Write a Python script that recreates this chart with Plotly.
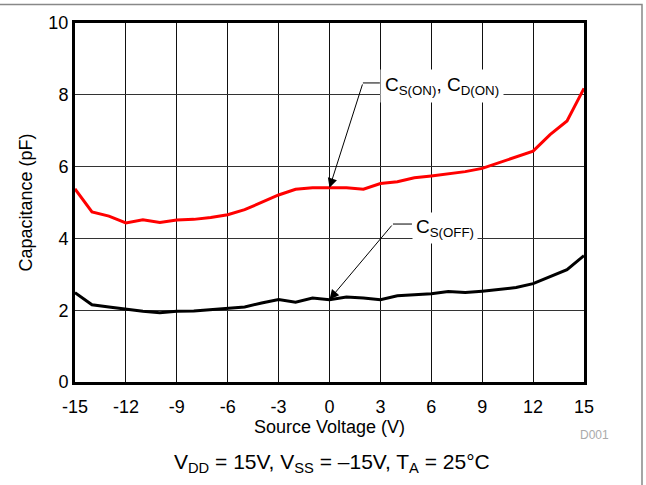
import plotly.graph_objects as go

# ---- data ----
source_voltage = list(range(-15, 16))
cs_on = [5.38, 4.74, 4.62, 4.43, 4.52, 4.44, 4.51, 4.53, 4.58, 4.66, 4.80, 5.01, 5.21, 5.37, 5.41,
         5.41, 5.41, 5.37, 5.53, 5.58, 5.69, 5.74, 5.80, 5.86, 5.95, 6.11, 6.25, 6.43, 6.89, 7.27, 8.18]
cs_off = [2.49, 2.15, 2.09, 2.02, 1.97, 1.93, 1.97, 1.98, 2.01, 2.04, 2.09, 2.20, 2.30, 2.22, 2.34,
          2.29, 2.37, 2.34, 2.29, 2.40, 2.42, 2.46, 2.52, 2.49, 2.53, 2.59, 2.63, 2.74, 2.94, 3.13, 3.52]
x_tick_vals = [-15, -12, -9, -6, -3, 0, 3, 6, 9, 12, 15]
x_tick_text = ["-15", "-12", "-9", "-6", "-3", "0", "3", "6", "9", "12", "15"]
y_tick_vals = [0, 2, 4, 6, 8, 10]
y_tick_text = ["0", "2", "4", "6", "8", "10"]

FONT = "Liberation Sans, Arial, sans-serif"

fig = go.Figure()
fig.add_trace(go.Scatter(x=source_voltage, y=cs_on, mode="lines",
                         line=dict(color="#ff0000", width=3), name="CS(ON), CD(ON)"))
fig.add_trace(go.Scatter(x=source_voltage, y=cs_off, mode="lines",
                         line=dict(color="#000000", width=3), name="CS(OFF)"))

# leader lines (horizontal parts)
fig.add_shape(type="line", x0=1.97, y0=8.33, x1=2.97, y1=8.33, xref="x", yref="y",
              line=dict(color="black", width=1))
fig.add_shape(type="line", x0=3.74, y0=4.40, x1=4.86, y1=4.40, xref="x", yref="y",
              line=dict(color="black", width=1))

# arrows
fig.add_annotation(x=0, y=5.41, ax=1.97, ay=8.33, axref="x", ayref="y", xref="x", yref="y",
                   text="", showarrow=True, arrowhead=2, arrowsize=1.9, arrowwidth=1,
                   arrowcolor="black", standoff=0)
fig.add_annotation(x=0, y=2.30, ax=3.74, ay=4.40, axref="x", ayref="y", xref="x", yref="y",
                   text="", showarrow=True, arrowhead=2, arrowsize=1.9, arrowwidth=1,
                   arrowcolor="black", standoff=0)

# labels
fig.add_annotation(x=3.0, y=8.24, xref="x", yref="y", xanchor="left", yanchor="middle",
                   text="C<sub>S(ON)</sub>, C<sub>D(ON)</sub>", showarrow=False,
                   font=dict(family=FONT, size=19, color="black"), bgcolor="white", borderpad=4)
fig.add_annotation(x=4.88, y=4.30, xref="x", yref="y", xanchor="left", yanchor="middle",
                   text="C<sub>S(OFF)</sub>", showarrow=False,
                   font=dict(family=FONT, size=19, color="black"), bgcolor="white", borderpad=3)

# caption and figure id
fig.add_annotation(x=0.504, y=-0.2256, xref="paper", yref="paper", xanchor="center", yanchor="middle",
                   text="V<sub>DD</sub> = 15V, V<sub>SS</sub> = \u201315V, T<sub>A</sub> = 25\u00b0C",
                   showarrow=False, font=dict(family=FONT, size=21, color="black"))
fig.add_annotation(x=1.0216, y=-0.148, xref="paper", yref="paper", xanchor="center", yanchor="middle",
                   text="D001", showarrow=False, font=dict(family=FONT, size=12, color="#aaaaaa"))

# outer gray frame
fig.add_shape(type="rect", xref="paper", yref="paper",
              x0=-0.16, x1=(642 - 75) / 509, y0=-0.35, y1=(382 - 4.5) / 359,
              line=dict(color="#888888", width=1.5), fillcolor="rgba(0,0,0,0)", layer="below")

fig.update_layout(
    width=646, height=485,
    margin=dict(l=75, r=62, t=23, b=103),
    paper_bgcolor="white", plot_bgcolor="white",
    showlegend=False,
    font=dict(family=FONT, color="black"),
    xaxis=dict(range=[-15, 15], tickvals=x_tick_vals, ticktext=x_tick_text,
               showgrid=True, gridcolor="#111111", gridwidth=1,
               showline=True, linecolor="black", linewidth=3, mirror=True,
               ticks="outside", ticklen=6, tickcolor="rgba(0,0,0,0)",
               zeroline=False, tickfont=dict(size=18, family=FONT),
               title=dict(text="Source Voltage (V)", font=dict(size=18, family=FONT), standoff=3)),
    yaxis=dict(range=[0, 10], tickvals=y_tick_vals, ticktext=y_tick_text,
               showgrid=True, gridcolor="#333333", gridwidth=1,
               showline=True, linecolor="black", linewidth=3, mirror=True,
               ticks="", zeroline=False, tickfont=dict(size=18, family=FONT),
               title=dict(text="Capacitance (pF)", font=dict(size=18, family=FONT), standoff=12)),
)

fig.write_html("out.html")
